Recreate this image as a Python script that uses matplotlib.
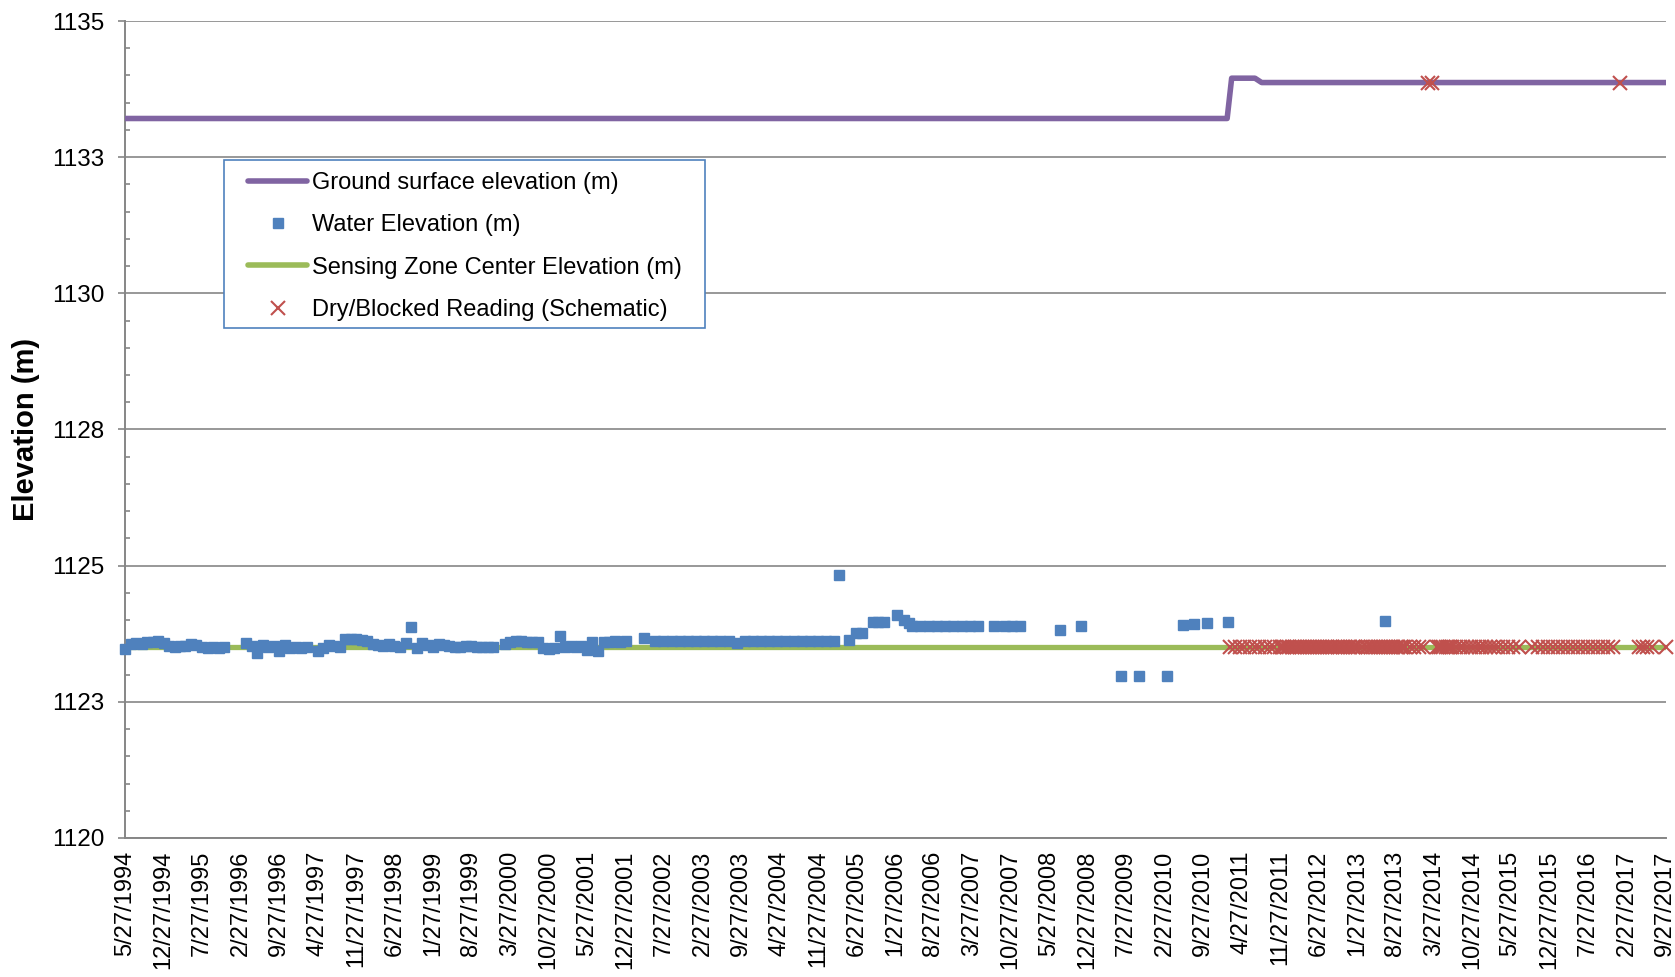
import matplotlib

matplotlib.use('Agg')

import matplotlib.pyplot as plt
import matplotlib.dates as mdates
import matplotlib.ticker as ticker
from matplotlib.lines import Line2D
from matplotlib.patches import Rectangle
import numpy as np
import pandas as pd

plt.rcParams['font.family'] = ['Liberation Sans', 'DejaVu Sans']

PURPLE = '#8064A2'
BLUE = '#4F81BD'
GREEN = '#9BBB59'
RED = '#C0504D'
GRAY = '#868686'

# x axis labels (every 7 months)
x_labels = ['5/27/1994', '12/27/1994', '7/27/1995', '2/27/1996', '9/27/1996', '4/27/1997',
            '11/27/1997', '6/27/1998', '1/27/1999', '8/27/1999', '3/27/2000', '10/27/2000',
            '5/27/2001', '12/27/2001', '7/27/2002', '2/27/2003', '9/27/2003', '4/27/2004',
            '11/27/2004', '6/27/2005', '1/27/2006', '8/27/2006', '3/27/2007', '10/27/2007',
            '5/27/2008', '12/27/2008', '7/27/2009', '2/27/2010', '9/27/2010', '4/27/2011',
            '11/27/2011', '6/27/2012', '1/27/2013', '8/27/2013', '3/27/2014', '10/27/2014',
            '5/27/2015', '12/27/2015', '7/27/2016', '2/27/2017', '9/27/2017']
x_start = '1994-05-27'
x_end = '2017-10-03'

# ground surface elevation (m)
ground_dates = ['1994-05-27', '2011-02-08', '2011-03-05', '2011-07-12', '2011-08-18', '2017-10-03']
ground_elev = [1133.21, 1133.21, 1133.95, 1133.95, 1133.87, 1133.87]

# sensing zone center elevation (m)
sensor_dates = ['1994-05-27', '2017-10-03']
sensor_elev = [1123.5, 1123.5]

# water elevation (m)
water_dates = [
    '1994-05-27', '1994-06-27', '1994-07-27', '1994-08-27', '1994-09-27', '1994-10-27', '1994-11-27', '1994-12-27',
    '1995-01-27', '1995-02-27', '1995-03-27', '1995-04-27', '1995-05-27', '1995-06-27', '1995-07-27', '1995-08-27',
    '1995-09-27', '1995-10-27', '1995-11-27',
    '1996-03-27', '1996-04-27', '1996-05-27', '1996-06-27', '1996-07-27', '1996-08-27', '1996-09-27', '1996-10-27',
    '1996-11-27', '1996-12-27',
    '1997-01-27', '1997-02-27', '1997-04-27', '1997-05-27', '1997-06-27', '1997-07-27', '1997-08-27', '1997-09-27',
    '1997-10-27', '1997-11-27', '1997-12-27',
    '1998-01-27', '1998-02-27', '1998-03-27', '1998-04-27', '1998-05-27', '1998-06-27', '1998-07-27', '1998-08-27',
    '1998-09-27', '1998-10-27', '1998-11-27', '1998-12-27',
    '1999-01-27', '1999-02-27', '1999-03-27', '1999-04-27', '1999-05-27', '1999-06-27', '1999-07-27', '1999-08-27',
    '1999-09-27', '1999-10-27', '1999-11-27', '1999-12-27',
    '2000-02-27', '2000-03-27', '2000-04-27', '2000-05-27', '2000-06-27', '2000-07-27', '2000-08-27', '2000-09-27',
    '2000-10-27', '2000-11-27', '2000-12-27',
    '2001-01-27', '2001-02-27', '2001-03-27', '2001-04-27', '2001-05-27', '2001-06-27', '2001-07-27', '2001-08-27',
    '2001-09-27', '2001-10-27', '2001-11-27', '2001-12-27',
    '2002-04-10', '2002-06-10', '2002-07-25', '2002-09-08', '2002-10-23', '2002-12-07',
    '2003-01-21', '2003-03-07', '2003-04-21', '2003-06-05', '2003-07-20', '2003-09-03', '2003-10-18', '2003-12-02',
    '2004-01-16', '2004-03-01', '2004-04-15', '2004-05-30', '2004-07-14', '2004-08-28', '2004-10-12', '2004-11-26',
    '2005-01-10', '2005-02-24', '2005-03-23', '2005-05-15', '2005-06-27', '2005-07-27', '2005-09-27', '2005-10-27',
    '2005-11-27',
    '2006-02-05', '2006-03-15', '2006-04-15', '2006-05-01', '2006-06-15', '2006-08-01', '2006-09-15', '2006-11-01',
    '2006-12-15',
    '2007-02-01', '2007-03-15', '2007-05-01', '2007-07-30', '2007-09-27', '2007-11-03', '2007-12-18',
    '2008-07-30', '2008-11-23',
    '2009-07-03', '2009-10-06',
    '2010-03-11', '2010-06-11', '2010-08-11', '2010-10-18',
    '2011-02-11',
    '2013-06-30',
]
water_elev = [
    1123.47, 1123.56, 1123.58, 1123.57, 1123.60, 1123.59, 1123.61, 1123.58,
    1123.53, 1123.51, 1123.53, 1123.52, 1123.56, 1123.54, 1123.50, 1123.49,
    1123.50, 1123.49, 1123.50,
    1123.58, 1123.52, 1123.40, 1123.55, 1123.50, 1123.53, 1123.44, 1123.55,
    1123.49, 1123.50,
    1123.49, 1123.50, 1123.43, 1123.48, 1123.55, 1123.53, 1123.50, 1123.65,
    1123.66, 1123.65, 1123.64,
    1123.62, 1123.57, 1123.55, 1123.52, 1123.57, 1123.53, 1123.50, 1123.58,
    1123.88, 1123.48, 1123.58, 1123.55,
    1123.50, 1123.57, 1123.55, 1123.52, 1123.50, 1123.50, 1123.52, 1123.52,
    1123.51, 1123.50, 1123.51, 1123.50,
    1123.56, 1123.60, 1123.62, 1123.61, 1123.60, 1123.59, 1123.60, 1123.48,
    1123.47, 1123.48, 1123.70,
    1123.50, 1123.52, 1123.51, 1123.52, 1123.45, 1123.60, 1123.43, 1123.60,
    1123.60, 1123.61, 1123.60, 1123.61,
    1123.68, 1123.62, 1123.62, 1123.61, 1123.62, 1123.62,
    1123.62, 1123.61, 1123.62, 1123.61, 1123.62, 1123.58, 1123.61, 1123.62,
    1123.62, 1123.61, 1123.62, 1123.62, 1123.61, 1123.62, 1123.62, 1123.61,
    1123.62, 1123.61, 1124.82, 1123.63, 1123.76, 1123.76, 1123.97, 1123.97,
    1123.97,
    1124.09, 1124.01, 1123.95, 1123.89, 1123.89, 1123.89, 1123.89, 1123.89,
    1123.89,
    1123.89, 1123.89, 1123.89, 1123.89, 1123.89, 1123.89, 1123.89,
    1123.81, 1123.89,
    1122.98, 1122.98,
    1122.98, 1123.91, 1123.93, 1123.95,
    1123.96,
    1123.99,
]

# dry / blocked readings (schematic), plotted at sensing zone or ground
dry_sensor_elev = 1123.5
dry_sensor_dates = [
    '2011-02-24', '2011-03-22', '2011-04-18', '2011-05-15', '2011-06-12', '2011-07-10',
    '2011-08-06', '2011-09-03', '2011-10-01', '2011-10-28', '2011-11-25', '2011-12-08', '2011-12-22',
    '2012-01-05', '2012-01-19', '2012-02-02', '2012-02-16', '2012-03-01', '2012-03-15', '2012-03-29',
    '2012-04-12', '2012-04-26', '2012-05-10', '2012-05-24', '2012-06-07', '2012-06-21', '2012-07-05',
    '2012-07-19', '2012-08-02', '2012-08-16', '2012-08-30', '2012-09-13', '2012-09-27', '2012-10-11',
    '2012-10-25', '2012-11-08', '2012-11-22', '2012-12-06', '2012-12-20',
    '2013-01-03', '2013-01-17', '2013-01-31', '2013-02-22', '2013-03-15', '2013-03-29', '2013-04-12',
    '2013-04-26', '2013-05-10', '2013-05-24', '2013-06-07', '2013-06-21', '2013-07-05', '2013-07-19',
    '2013-08-02', '2013-08-16', '2013-08-30', '2013-09-13', '2013-09-27', '2013-10-11',
    '2013-10-22', '2013-11-15', '2013-12-09', '2014-01-03', '2014-01-28',
    '2014-04-14', '2014-04-26', '2014-05-08', '2014-05-20', '2014-06-01', '2014-06-13', '2014-06-25',
    '2014-07-07', '2014-07-28', '2014-08-18', '2014-09-08', '2014-09-29', '2014-10-20', '2014-11-10',
    '2014-12-01', '2014-12-22', '2015-01-12', '2015-02-02', '2015-02-23',
    '2015-03-20', '2015-04-17', '2015-05-15', '2015-06-12', '2015-07-10',
    '2015-09-25', '2015-10-23', '2015-11-20', '2015-12-18', '2016-01-15', '2016-02-12', '2016-03-11',
    '2016-04-08', '2016-05-06', '2016-06-03', '2016-07-01', '2016-07-29', '2016-08-26', '2016-09-23',
    '2016-10-21', '2016-11-18', '2016-12-12',
    '2017-05-05', '2017-05-29', '2017-06-22', '2017-07-16', '2017-10-01',
]
dry_ground_elev = 1133.87
dry_ground_dates = ['2014-02-25', '2014-03-20', '2017-01-20']


def to_num(dates, fmt=None):
    return mdates.date2num(pd.to_datetime(dates, format=fmt).to_pydatetime())


fig = plt.figure(figsize=(16.75, 9.77), dpi=100)
ax = fig.add_axes([0.0746, 0.1423, 0.9200, 0.8362])

ax.plot(to_num(ground_dates), ground_elev, color=PURPLE, lw=4,
        solid_capstyle='round', solid_joinstyle='round', zorder=3)
ax.plot(to_num(sensor_dates), sensor_elev, color=GREEN, lw=3.8, zorder=3)
ax.plot(to_num(water_dates), water_elev, ls='none', marker='s', ms=7,
        color=BLUE, mec=BLUE, zorder=4, clip_on=False)
ax.plot(to_num(dry_sensor_dates), [dry_sensor_elev] * len(dry_sensor_dates), ls='none',
        marker='x', ms=10, mew=1.5, color=RED, zorder=5, clip_on=False)
ax.plot(to_num(dry_ground_dates), [dry_ground_elev] * len(dry_ground_dates), ls='none',
        marker='x', ms=10, mew=1.5, color=RED, zorder=5, clip_on=False)

# axes
ax.set_xlim(to_num([x_start])[0], to_num([x_end])[0])
ax.set_ylim(1120, 1135)
ax.set_xticks(to_num(x_labels, '%m/%d/%Y'))
ax.set_xticklabels(x_labels, rotation=90, fontsize=17)
ax.tick_params(axis='x', length=0, pad=9)

ax.yaxis.set_major_locator(ticker.MultipleLocator(2.5))
ax.yaxis.set_minor_locator(ticker.MultipleLocator(0.5))
# excel rounds 1122.5 -> 1123
ax.yaxis.set_major_formatter(ticker.FuncFormatter(lambda v, p: '%d' % np.floor(v + 0.5)))
ax.tick_params(axis='y', which='major', direction='out', length=5, width=1.2,
               color=GRAY, labelsize=17.5, pad=10)
ax.tick_params(axis='y', which='minor', direction='in', length=3.5, width=1.2, color=GRAY)
ax.yaxis.grid(True, which='major', color=GRAY, lw=1.2)
ax.set_axisbelow(True)

for side in ['top', 'right']:
    ax.spines[side].set_visible(False)
for side in ['left', 'bottom']:
    ax.spines[side].set_color(GRAY)
    ax.spines[side].set_linewidth(1.4)

ax.set_ylabel('Elevation (m)', fontsize=21, fontweight='bold')
ax.yaxis.set_label_coords(-0.055, 0.5)

# legend with a square blue box
box = Rectangle((0.0641, 0.6242), 0.3125, 0.2056, transform=ax.transAxes,
                facecolor='white', edgecolor=BLUE, lw=1.2, zorder=8, clip_on=False)
ax.add_patch(box)
handles = [
    Line2D([], [], color=PURPLE, lw=4, solid_capstyle='round'),
    Line2D([], [], ls='none', marker='s', ms=7, color=BLUE),
    Line2D([], [], color=GREEN, lw=4, solid_capstyle='round'),
    Line2D([], [], ls='none', marker='x', ms=10, mew=1.5, color=RED),
]
labels = ['Ground surface elevation (m)', 'Water Elevation (m)',
          'Sensing Zone Center Elevation (m)', 'Dry/Blocked Reading (Schematic)']
leg = ax.legend(handles, labels, loc='upper left', bbox_to_anchor=(0.0800, 0.8153),
                frameon=False, fontsize=17, handlelength=2.5, handletextpad=0.2,
                labelspacing=0.865, borderpad=0, borderaxespad=0)
leg.set_zorder(9)

fig.savefig('out.png', dpi=100)
